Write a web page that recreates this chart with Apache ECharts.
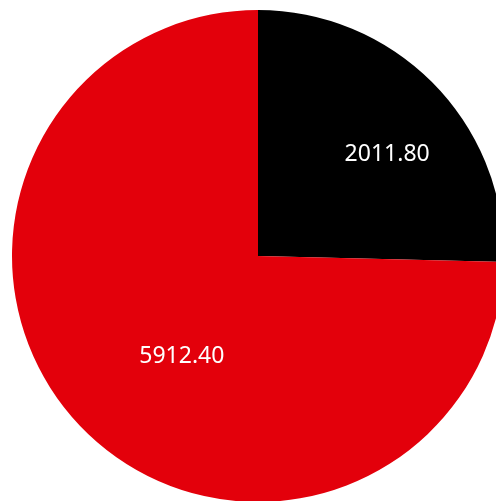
<!DOCTYPE html>
<html>
<head>
<meta charset="utf-8">
<script src="https://cdn.jsdelivr.net/npm/echarts@6/dist/echarts.min.js"></script>
<style>
html,body{margin:0;padding:0;background:#fff;}
#main{width:496px;height:501px;}
</style>
</head>
<body>
<div id="main"></div>
<script>
var names = ['A', 'B'];
var values = [2011.80, 5912.40];
var colors = ['#000000', '#E3000B'];

var myChart = echarts.init(document.getElementById('main'));

var pieData = [];
for (var i = 0; i < values.length; i++) {
    pieData.push({
        name: names[i],
        value: values[i],
        itemStyle: {color: colors[i]}
    });
}

// nudge labels to where the original puts them
var shift = [[39, -14], [14, 12]];

option = {
    animation: false,
    series: [
        {
            type: 'pie',
            center: [258, 256],
            radius: [0, 246],
            startAngle: 90,
            clockwise: true,
            silent: true,
            label: {
                show: true,
                position: 'inside',
                color: '#fff',
                fontFamily: 'Noto Sans',
                fontSize: 23,
                formatter: function (p) {
                    return p.value.toFixed(2);
                }
            },
            labelLine: {show: false},
            labelLayout: function (p) {
                return {dx: shift[p.dataIndex][0], dy: shift[p.dataIndex][1]};
            },
            data: pieData
        }
    ]
};
myChart.setOption(option);
</script>
</body>
</html>
